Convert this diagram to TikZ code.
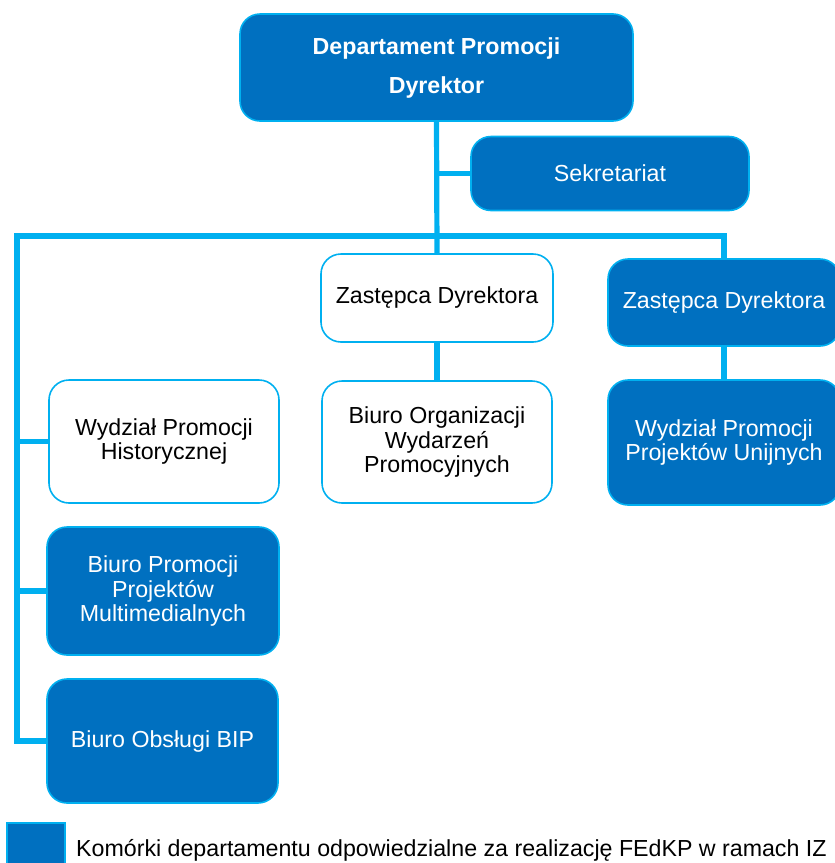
\documentclass[tikz,border=0pt]{standalone}
\usepackage{fontspec}
\setmainfont{Liberation Sans}
\usepackage{tikz}
\usetikzlibrary{positioning}
\definecolor{ciemny}{HTML}{0070C0}
\definecolor{jasny}{HTML}{00B0F0}

\begin{document}
\begin{tikzpicture}[x=0.5pt, y=-0.5pt,
  komorka/.style={rectangle, rounded corners=10pt, draw=jasny, line width=0.8pt,
                  align=center, inner sep=2pt,
                  font=\fontsize{11.6pt}{12.25pt}\selectfont},
  fedkp/.style={komorka, fill=ciemny, text=white},
  inna/.style={komorka, fill=white, text=black},
  linia/.style={draw=jasny, line width=2.6pt, line join=miter}]
%
\clip (0,0) rectangle (835,863);
\useasboundingbox (0,0) rectangle (835,863);
%
\node[fedkp, minimum width=196.5pt, minimum height=53.5pt,
      font=\fontsize{11.6pt}{12.25pt}\selectfont\bfseries] (dyr) at (436.5,67.5)
      {Departament Promocji\\[7.25pt] Dyrektor};
\node[fedkp, minimum width=139pt, minimum height=37pt] (sek) at (610,173.5) {Sekretariat};
\node[inna, minimum width=116pt, minimum height=44pt] (zd1) at (437,298) {Zastępca Dyrektora};
\node[fedkp, minimum width=116pt, minimum height=43.5pt] (zd2) at (724,302.5) {Zastępca Dyrektora};
\node[inna, minimum width=115pt, minimum height=61pt] (boz) at (437,442)
      {Biuro Organizacji\\ Wydarzeń\\ Promocyjnych};
\node[fedkp, minimum width=116pt, minimum height=62.5pt] (wpu) at (724,442.5)
      {Wydział Promocji\\ Projektów Unijnych};
\node[inna, minimum width=115pt, minimum height=61.5pt] (wph) at (164,441.5)
      {Wydział Promocji\\ Historycznej};
\node[fedkp, minimum width=116pt, minimum height=64pt] (bpm) at (163,591)
      {Biuro Promocji\\ Projektów\\ Multimedialnych};
\node[fedkp, minimum width=115.5pt, minimum height=62pt] (bob) at (162.5,741) {Biuro Obsługi BIP};
%
\coordinate (szyna) at (436.5,236);
\coordinate (lewa) at (17,236);
%
\draw[linia] (dyr.south) -- (zd1.north);
\draw[linia] (sek.west) -- (sek.west -| dyr.south);
\draw[linia] (zd2.north) |- (lewa) -- (bob.west -| lewa) -- (bob.west);
\draw[linia] (wph.west -| lewa) -- (wph.west);
\draw[linia] (bpm.west -| lewa) -- (bpm.west);
\draw[linia] (zd1.south) -- (boz.north);
\draw[linia] (zd2.south) -- (wpu.north);
%
\node[rectangle, fill=ciemny, draw=jasny, line width=0.8pt,
      minimum width=29pt, minimum height=27pt] (leg) at (36,850) {};
\node[right=5pt of leg.east, inner sep=0pt, anchor=west,
      font=\fontsize{11.6pt}{12.25pt}\selectfont] (legtxt)
      {Komórki departamentu odpowiedzialne za realizację FEdKP w ramach IZ};
%
\end{tikzpicture}
\end{document}
